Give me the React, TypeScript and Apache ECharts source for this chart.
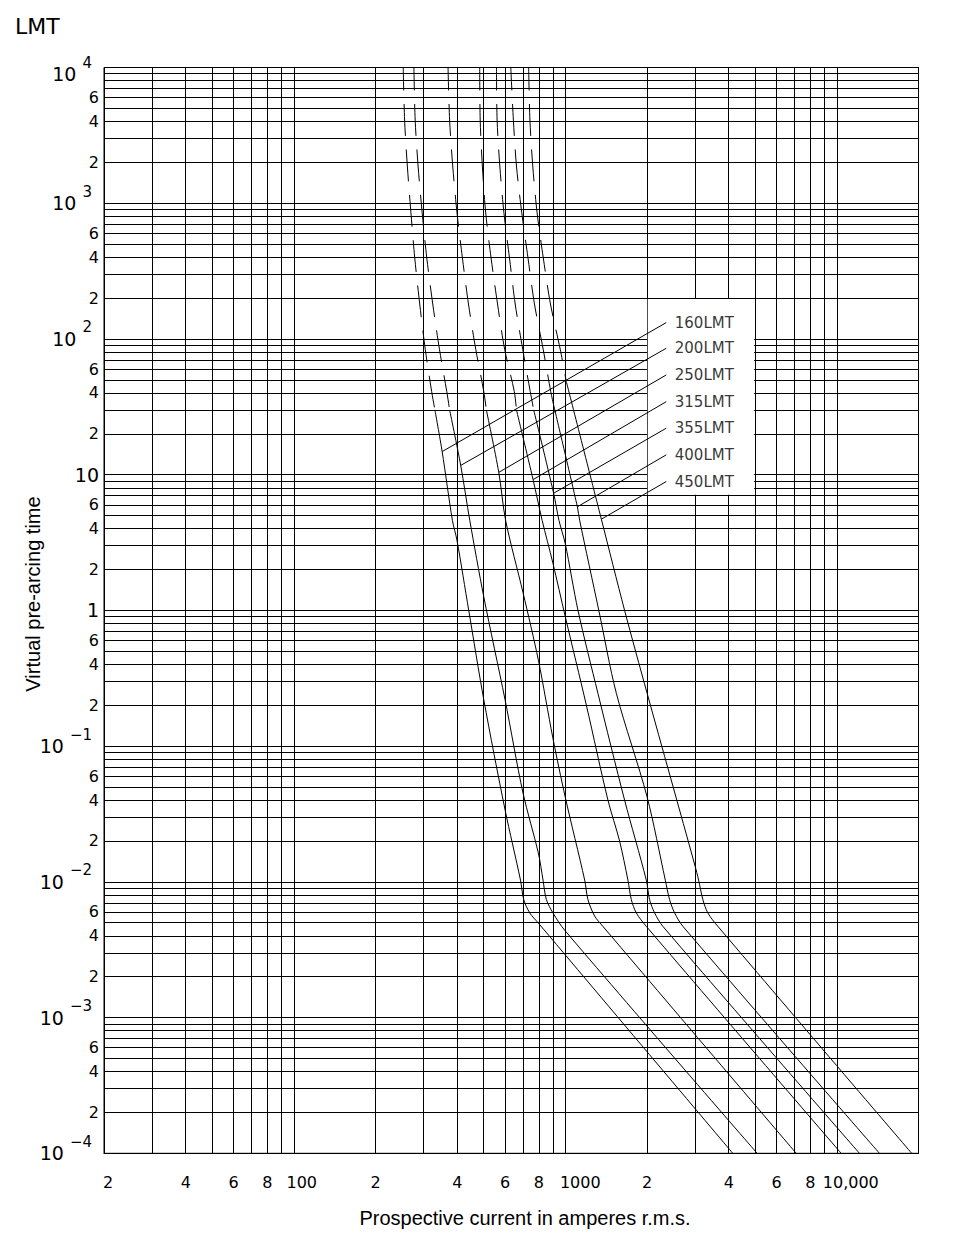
import React, { useEffect, useRef } from "react";
import * as echarts from "echarts";

const FUSES = ["160LMT", "200LMT", "250LMT", "315LMT", "355LMT", "400LMT", "450LMT"];

// [prospective current A, virtual pre-arcing time s] — upper (dashed) parts
const DASH_160 = [[253, 10000], [256, 4100], [262, 1880], [270, 860], [279, 395], [291, 181], [305, 84], [322, 41], [331, 30]];
const DASH_200 = [[277, 10000], [280, 4100], [287, 1880], [297, 860], [309, 395], [325, 181], [344, 84], [366, 41], [375, 30]];
const DASH_250 = [[370, 10000], [375, 4100], [385, 1880], [399, 860], [418, 395], [440, 181], [468, 84], [501, 41], [512, 30]];
const DASH_315 = [[484, 10000], [486, 4100], [495, 1880], [509, 860], [533, 395], [563, 181], [598, 84], [649, 41], [661, 30]];
const DASH_355 = [[558, 10000], [561, 4100], [574, 1880], [594, 860], [623, 395], [654, 181], [697, 84], [743, 41], [765, 30]];
const DASH_400 = [[630, 10000], [644, 4100], [661, 1880], [691, 860], [729, 395], [770, 181], [829, 84], [884, 41], [906, 32.6]];
const DASH_450 = [[733, 10000], [741, 4100], [759, 1880], [787, 860], [830, 395], [882, 181], [958, 84], [1009, 48.5]];

// lower (solid) parts
const SOLID_160 = [[331, 30], [352, 14.8], [384, 4.6], [399, 3.3], [441, 1.0], [501, 0.22], [600, 0.034], [684, 0.0103], [703, 0.0074], [740, 0.0059], [794, 0.005], [4140, 0.0001]];
const SOLID_200 = [[375, 30], [412, 11.7], [445, 4.6], [501, 1.26], [600, 0.22], [699, 0.045], [796, 0.0163], [828, 0.0103], [852, 0.0074], [901, 0.0059], [995, 0.0044], [5090, 0.0001]];
const SOLID_250 = [[512, 30], [569, 10.4], [603, 4.6], [699, 1.35], [796, 0.43], [900, 0.115], [1000, 0.042], [1179, 0.0103], [1212, 0.0074], [1283, 0.0056], [1376, 0.0047], [7090, 0.0001]];
const SOLID_315 = [[661, 30], [761, 9.2], [822, 4.6], [900, 2.24], [1000, 0.9], [1196, 0.2], [1436, 0.04], [1585, 0.02], [1701, 0.0103], [1751, 0.0074], [1827, 0.0059], [1988, 0.0047], [10380, 0.0001]];
const SOLID_355 = [[765, 30], [906, 7.3], [948, 4.6], [1000, 3.1], [1114, 1.0], [1319, 0.245], [1654, 0.04], [1988, 0.0103], [2044, 0.0074], [2134, 0.0059], [2288, 0.0047], [12120, 0.0001]];
const SOLID_400 = [[906, 32.6], [1108, 5.8], [1130, 4.6], [1329, 1.0], [1542, 0.245], [2000, 0.0425], [2336, 0.0103], [2422, 0.0074], [2528, 0.0059], [2712, 0.0047], [14360, 0.0001]];
const SOLID_450 = [[1009, 48.5], [1358, 4.7], [1654, 1.0], [2000, 0.247], [3000, 0.0133], [3098, 0.0103], [3212, 0.0074], [3350, 0.0059], [3648, 0.0047], [18880, 0.0001]];

const DASHED = [DASH_160, DASH_200, DASH_250, DASH_315, DASH_355, DASH_400, DASH_450];
const SOLID = [SOLID_160, SOLID_200, SOLID_250, SOLID_315, SOLID_355, SOLID_400, SOLID_450];

// leader lines: point on curve -> label anchor
const LEADER_ON_CURVE = [[352, 14.8], [412, 11.7], [569, 10.4], [761, 9.2], [906, 7.3], [1108, 5.8], [1358, 4.7]];
const LEADER_LABEL_AT = [[2355, 132], [2355, 85.4], [2355, 54.3], [2355, 34.5], [2355, 22], [2355, 14], [2355, 8.9]];

// white panel behind the labels (current range, time range)
const LABEL_BOX = [[2012, 197], [4960, 7.12]];

// axis ticks and labels
const X_TICKS = [20, 40, 60, 80, 100, 200, 400, 600, 800, 1000, 2000, 4000, 6000, 8000, 10000];
const X_TICK_LABELS = ["2", "4", "6", "8", "100", "2", "4", "6", "8", "1000", "2", "4", "6", "8", "10,000"];
const Y_TICKS = [10000, 6000, 4000, 2000, 1000, 600, 400, 200, 100, 60, 40, 20, 10, 6, 4, 2, 1, 0.6, 0.4, 0.2, 0.1, 0.06, 0.04, 0.02, 0.01, 0.006, 0.004, 0.002, 0.001, 0.0006, 0.0004, 0.0002, 0.0001];
const Y_TICK_LABELS = ["10^4", "6", "4", "2", "10^3", "6", "4", "2", "10^2", "6", "4", "2", "10", "6", "4", "2", "1", "6", "4", "2", "10^\u22121", "6", "4", "2", "10^\u22122", "6", "4", "2", "10^\u22123", "6", "4", "2", "10^\u22124"];

// grid lines
const X_GRID = [20, 30, 40, 50, 60, 70, 80, 90, 100, 200, 300, 400, 500, 600, 700, 800, 900, 1000, 2000, 3000, 4000, 5000, 6000, 7000, 8000, 9000, 10000, 20000];
const GRID_MANTISSAS = [1, 2, 3, 4, 5, 6, 7, 8, 9];
const Y_GRID_DECADES = [-4, -3, -2, -1, 0, 1, 2, 3];
const Y_GRID = [
  ...Y_GRID_DECADES.flatMap((d) => GRID_MANTISSAS.map((m) => Number((m * Math.pow(10, d)).toPrecision(3)))),
  10000,
];

// single-digit labels on the main x axis, decade labels on an overlaid axis
const X_DIGIT_TICKS = X_TICKS.filter((_, i) => X_TICK_LABELS[i].length === 1);
const X_DECADE_TICKS = X_TICKS.filter((_, i) => X_TICK_LABELS[i].length > 1);

const TICK_FONT = "DejaVu Sans";
const TITLE_FONT = "Liberation Sans";

function findIdx(arr: number[], v: number) {
  return arr.findIndex((t) => Math.abs(Math.log10(t) - Math.log10(v)) < 1e-6);
}

function xLabel(v: number) {
  const i = findIdx(X_TICKS, v);
  if (i < 0) return "";
  const s = X_TICK_LABELS[i];
  const style = s === "100" ? "h" : s === "1000" ? "k" : s === "10,000" ? "m" : i === 0 ? "u" : "t";
  return `{${style}|${s}}`;
}

function yLabel(v: number) {
  const i = findIdx(Y_TICKS, v);
  if (i < 0) return "";
  const s = Y_TICK_LABELS[i];
  if (s.startsWith("10^")) {
    const top = i === 0;
    return top ? `{B|10}{S|${s.slice(3)}}` : `{b|10}{s|${s.slice(3)}}`;
  }
  if (s === "10" || s === "1") return `{n|${s}}`;
  return `{d|${s}}`;
}

const xTok = (pad: number) => ({ fontFamily: TICK_FONT, fontSize: 16, lineHeight: 20, color: "#000", padding: [0, 0, 0, pad] });
const X_RICH = { t: xTok(0), u: xTok(8), h: xTok(16), k: xTok(30), m: xTok(28) };

export default function App() {
  const ref = useRef<HTMLDivElement>(null);
  useEffect(() => {
    if (!ref.current) return;
    const chart = echarts.init(ref.current, undefined, { renderer: "svg" });

    const curveSeries: any[] = [];
    FUSES.forEach((name, i) => {
      curveSeries.push({
        name: name + " (dashed)",
        type: "line",
        data: DASHED[i],
        symbol: "none",
        showSymbol: false,
        smooth: 0.3,
        silent: true,
        z: 3,
        lineStyle: { color: "#000", width: 1, type: [32, 13.5], dashOffset: 9 },
      });
      curveSeries.push({
        name,
        type: "line",
        data: SOLID[i],
        symbol: "none",
        showSymbol: false,
        smooth: 0.3,
        silent: true,
        z: 3,
        lineStyle: { color: "#000", width: 1, type: "solid" },
      });
    });

    const option: any = {
      animation: false,
      backgroundColor: "#fff",
      grid: {
        left: 104,
        top: 67.5,
        width: 814.5,
        height: 1085.8,
        show: true,
        borderColor: "#000",
        borderWidth: 1,
        backgroundColor: "transparent",
        containLabel: false,
        outerBoundsMode: "none",
      },
      xAxis: [
        {
          type: "log",
          logBase: 10,
          min: 20,
          max: 20000,
          axisLine: { show: true, lineStyle: { color: "#000", width: 1 } },
          axisTick: { show: false, customValues: X_GRID },
          minorTick: { show: false },
          splitLine: { show: true, lineStyle: { color: "#000", width: 1 } },
          axisLabel: {
            show: true,
            customValues: X_DIGIT_TICKS,
            formatter: xLabel,
            margin: 19,
            color: "#000",
            hideOverlap: false,
            showMinLabel: true,
            showMaxLabel: true,
            rich: X_RICH,
          },
        },
        {
          type: "log",
          logBase: 10,
          min: 20,
          max: 20000,
          position: "bottom",
          offset: 0,
          axisLine: { show: false },
          axisTick: { show: false },
          minorTick: { show: false },
          splitLine: { show: false },
          axisLabel: {
            show: true,
            customValues: X_DECADE_TICKS,
            formatter: xLabel,
            margin: 19,
            color: "#000",
            hideOverlap: false,
            showMinLabel: true,
            showMaxLabel: true,
            rich: X_RICH,
          },
        },
      ],
      yAxis: {
        type: "log",
        logBase: 10,
        min: 0.0001,
        max: 10000,
        axisLine: { show: true, lineStyle: { color: "#000", width: 1 } },
        axisTick: { show: false, customValues: Y_GRID },
        minorTick: { show: false },
        splitLine: { show: true, lineStyle: { color: "#000", width: 1 } },
        axisLabel: {
          show: true,
          customValues: Y_TICKS,
          formatter: yLabel,
          margin: 5,
          color: "#000",
          hideOverlap: false,
          showMinLabel: true,
          showMaxLabel: true,
          rich: {
            b: { fontFamily: TICK_FONT, fontSize: 19, lineHeight: 38, color: "#000", padding: [0, 6, 0, 0] },
            s: { fontFamily: TICK_FONT, fontSize: 15, lineHeight: 16, color: "#000", verticalAlign: "top", padding: [0, 7, 0, 0] },
            B: { fontFamily: TICK_FONT, fontSize: 19, lineHeight: 38, color: "#000", padding: [12, 6, 0, 0] },
            S: { fontFamily: TICK_FONT, fontSize: 15, lineHeight: 16, color: "#000", verticalAlign: "top", padding: [7, 7, 0, 0] },
            n: { fontFamily: TICK_FONT, fontSize: 19, lineHeight: 38, color: "#000" },
            d: { fontFamily: TICK_FONT, fontSize: 16, lineHeight: 38, color: "#000" },
          },
        },
      },
      series: [
        {
          name: "label panel",
          type: "scatter",
          data: LABEL_BOX,
          symbolSize: 0,
          itemStyle: { color: "rgba(0,0,0,0)" },
          silent: true,
          z: 1,
          markArea: {
            silent: true,
            z: 1,
            itemStyle: { color: "#fff", borderWidth: 0 },
            label: { show: false },
            data: [[{ coord: LABEL_BOX[0] }, { coord: LABEL_BOX[1] }]],
          },
        },
        ...curveSeries,
        {
          name: "labels",
          type: "scatter",
          data: LEADER_LABEL_AT.map((p, i) => ({ value: p, name: FUSES[i] })),
          symbolSize: 1,
          itemStyle: { color: "rgba(0,0,0,0)" },
          silent: true,
          z: 4,
          label: {
            show: true,
            position: "right",
            distance: 8,
            formatter: "{b}",
            fontFamily: TICK_FONT,
            fontSize: 15,
            color: "#000",
          },
          markLine: {
            silent: true,
            z: 5,
            symbol: ["none", "none"],
            label: { show: false },
            lineStyle: { color: "#000", width: 1, type: "solid" },
            data: LEADER_ON_CURVE.map((p, i) => [{ coord: p }, { coord: LEADER_LABEL_AT[i] }]),
          },
        },
      ],
      graphic: [
        {
          type: "text",
          x: 15,
          y: 26,
          style: { text: "LMT", fontFamily: TICK_FONT, fontSize: 22, fill: "#000", align: "left", verticalAlign: "middle", textAlign: "left", textVerticalAlign: "middle" },
        },
        {
          type: "text",
          x: 33,
          y: 594,
          rotation: Math.PI / 2,
          style: { text: "Virtual pre-arcing time", fontFamily: TITLE_FONT, fontSize: 20, fill: "#000", align: "center", verticalAlign: "middle", textAlign: "center", textVerticalAlign: "middle" },
        },
        {
          type: "text",
          x: 525,
          y: 1218,
          style: { text: "Prospective current in amperes r.m.s.", fontFamily: TITLE_FONT, fontSize: 20, fill: "#000", align: "center", verticalAlign: "middle", textAlign: "center", textVerticalAlign: "middle" },
        },
      ],
    };

    chart.setOption(option);
    return () => chart.dispose();
  }, []);

  return (
    <div
      ref={ref}
      style={{ position: "absolute", left: 0, top: 0, width: 956, height: 1250, background: "#fff" }}
    />
  );
}
